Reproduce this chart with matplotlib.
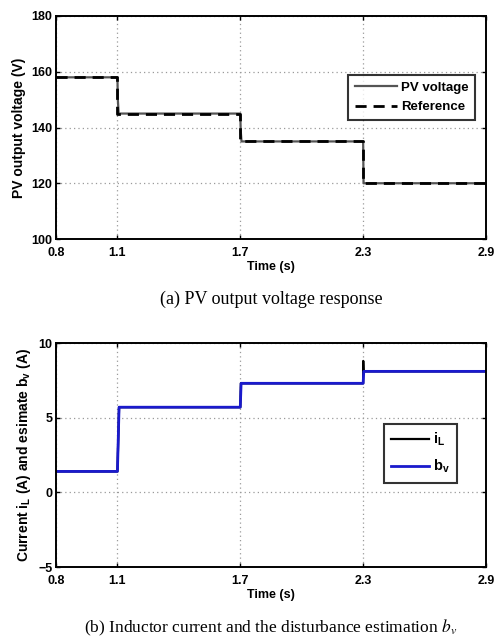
import matplotlib
matplotlib.use("Agg")
import matplotlib.pyplot as plt

# ---- data ----
xticks = [0.8, 1.1, 1.7, 2.3, 2.9]
xtick_labels = ["0.8", "1.1", "1.7", "2.3", "2.9"]

# PV voltage (measured) points
pv_t = [0.8, 1.1, 1.102, 1.106, 1.7, 1.702, 1.706, 2.3, 2.302, 2.9]
pv_v = [158, 158, 150, 145, 145, 139, 135, 135, 120, 120]
# Reference voltage (step)
ref_t = [0.8, 1.1, 1.1, 1.7, 1.7, 2.3, 2.3, 2.9]
ref_v = [158, 158, 145, 145, 135, 135, 120, 120]

# Inductor current iL
il_t = [0.8, 1.1, 1.108, 1.7, 1.703, 2.3, 2.3005, 2.302, 2.9]
il_v = [1.4, 1.4, 5.7, 5.7, 7.3, 7.3, 8.8, 8.1, 8.1]
# Disturbance estimate bv
bv_t = [0.8, 1.1, 1.108, 1.7, 1.704, 2.3, 2.303, 2.9]
bv_v = [1.4, 1.4, 5.7, 5.7, 7.3, 7.3, 8.1, 8.1]

yticks_a = [100, 120, 140, 160, 180]
yticks_b = [-5, 0, 5, 10]

plt.rcParams['font.family'] = ['Liberation Sans', 'DejaVu Sans']
plt.rcParams['mathtext.fontset'] = 'custom'
plt.rcParams['mathtext.rm'] = 'Liberation Sans:bold'
plt.rcParams['mathtext.it'] = 'Liberation Sans:bold'
plt.rcParams['mathtext.bf'] = 'Liberation Sans:bold'

fig = plt.figure(figsize=(4.95, 6.39), dpi=100)
W, H = 495, 639

def px_axes(l, t, r, b):
    return fig.add_axes([l / W, 1 - b / H, (r - l) / W, (b - t) / H])

def style(ax, yt):
    ax.set_xlim(0.8, 2.9)
    ax.set_xticks(xticks)
    ax.set_xticklabels(xtick_labels)
    ax.set_yticks(yt)
    ax.set_ylim(yt[0], yt[-1])
    ax.grid(True, color='#9a9a9a', linestyle=(0, (1, 2.5)), linewidth=0.9)
    ax.tick_params(direction='in', length=3, width=1, labelsize=9,
                   top=True, right=True)
    ax.tick_params(axis='x', pad=6)
    ax.tick_params(axis='y', pad=2.5)
    for lab in ax.get_xticklabels() + ax.get_yticklabels():
        lab.set_fontweight('bold')
    for s in ax.spines.values():
        s.set_linewidth(1.4)
    ax.set_xlabel('Time (s)', fontsize=9, fontweight='bold', labelpad=1.5)

# ---- (a) ----
ax1 = px_axes(56, 16, 486, 239)
ax1.plot(pv_t, pv_v, color='#555555', lw=1.6, label='PV voltage')
ax1.plot(ref_t, ref_v, color='black', lw=2.0, ls=(0, (4, 2.5)), label='Reference')
style(ax1, yticks_a)
ax1.set_ylabel('PV output voltage (V)', fontsize=10, fontweight='bold', labelpad=4)
leg1 = ax1.legend(loc='upper right', bbox_to_anchor=(0.975, 0.735),
                  prop={'weight': 'bold', 'size': 9.5}, frameon=True, fancybox=False,
                  edgecolor='black', handlelength=3.2, handletextpad=0.3,
                  borderpad=0.5, labelspacing=0.55, borderaxespad=0)
leg1.get_frame().set_linewidth(1.5)
fig.text((56 + 486) / 2 / W, 1 - 299 / H, '(a) PV output voltage response',
         ha='center', va='center', fontsize=13, family=['Liberation Serif'])

# ---- (b) ----
ax2 = px_axes(56, 343, 486, 567)
ax2.plot(il_t, il_v, color='black', lw=1.6, label=r'i$_\mathregular{L}$')
ax2.plot(bv_t, bv_v, color='#1a1acc', lw=2.0, label=r'b$_\mathregular{v}$')
style(ax2, yticks_b)
ax2.set_ylabel(r'Current i$_\mathregular{L}$ (A) and esimate b$_\mathregular{v}$ (A)',
               fontsize=10, fontweight='bold', labelpad=4)
leg2 = ax2.legend(loc='upper right', bbox_to_anchor=(0.933, 0.64),
                  prop={'weight': 'bold', 'size': 10.5}, frameon=True, fancybox=False,
                  edgecolor='black', handlelength=2.6, handletextpad=0.3,
                  borderpad=0.5, labelspacing=0.65, borderaxespad=0)
leg2.get_frame().set_linewidth(1.5)
fig.text((56 + 486) / 2 / W, 1 - 628 / H,
         r'(b) Inductor current and the disturbance estimation $b_v$',
         ha='center', va='center', fontsize=12.5, family=['Liberation Serif'],
         math_fontfamily='stix')

fig.savefig('out.png', dpi=100)
